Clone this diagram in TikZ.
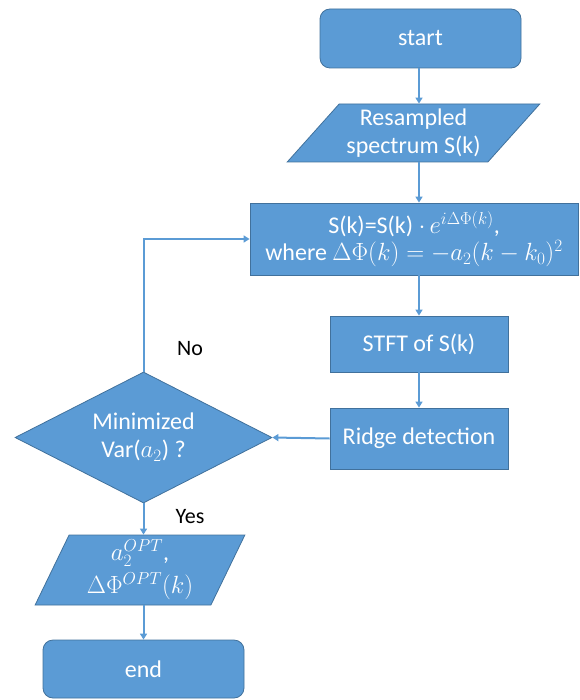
\documentclass[tikz,border=0pt]{standalone}
\usepackage{amsmath}
\usepackage{fontspec}
\setmainfont{Carlito}
\usetikzlibrary{shapes.geometric,arrows.meta}
\definecolor{boxfill}{HTML}{5B9BD5}
\definecolor{boxline}{HTML}{41719C}
\tikzset{
  base/.style={fill=boxfill, draw=boxline, line width=0.8pt, text=white, align=center, inner sep=0pt,
    font=\fontsize{24}{28}\selectfont},
  proc/.style={base, rectangle},
  term/.style={base, rectangle, rounded corners=10pt},
  dec/.style={base, diamond, aspect=1.96},
  io/.style={base, trapezium, trapezium left angle=#1, trapezium right angle=180-#1, trapezium stretches=true},
  arr/.style={draw=boxfill, line width=2pt, -{Triangle[length=6pt,width=7pt]}},
  lbl/.style={text=black, font=\fontsize{22}{26}\selectfont}
}
\begin{document}
\begin{tikzpicture}[x=1pt,y=-1pt]
\useasboundingbox (0,0) rectangle (579,700);
\node[term, minimum width=201pt, minimum height=59pt] (start) at (420.5,38.5) {start};
\node[io=46, minimum width=253pt, minimum height=58pt] (res) at (413.5,133) {Resampled\\spectrum S(k)};
\node[proc, minimum width=328pt, minimum height=72pt] (mult) at (414,239) {S(k)=S(k) $\cdot\, e^{i\Delta\Phi(k)}$,\\[-1pt] where $\Delta\Phi(k) = -a_2(k-k_0)^2$};
\node[proc, minimum width=178pt, minimum height=56pt] (stft) at (419,344) {STFT of S(k)};
\node[proc, minimum width=178pt, minimum height=61pt] (ridge) at (419,438.5) {Ridge detection};
\node[dec, minimum width=257pt, minimum height=131pt] (dec) at (143.5,437.5) {Minimized\\Var($a_2$) ?};
\node[io=67, minimum width=210pt, minimum height=70pt] (out) at (140,570) {$a_2^{OPT}$,\\[5pt]$\Delta\Phi^{OPT}(k)$};
\node[term, minimum width=201pt, minimum height=58pt] (end) at (143.5,669) {end};
\node[lbl] (no) at (190,349) {No};
\node[lbl] (yes) at (190,517) {Yes};
\draw[arr] (start.south -| 419,0) -- (res.north -| 419,0);
\draw[arr] (res.south -| 419,0) -- (mult.north -| 419,0);
\draw[arr] (mult.south -| 419,0) -- (stft.north);
\draw[arr] (stft.south) -- (ridge.north);
\draw[arr] (ridge.west) -- (dec.east);
\draw[arr] (dec.south) -- (dec.south |- out.north);
\draw[arr] (dec.south |- out.south) -- (end.north);
\draw[arr] (dec.north) -- (dec.north |- mult.west) -- (mult.west);
\end{tikzpicture}
\end{document}
